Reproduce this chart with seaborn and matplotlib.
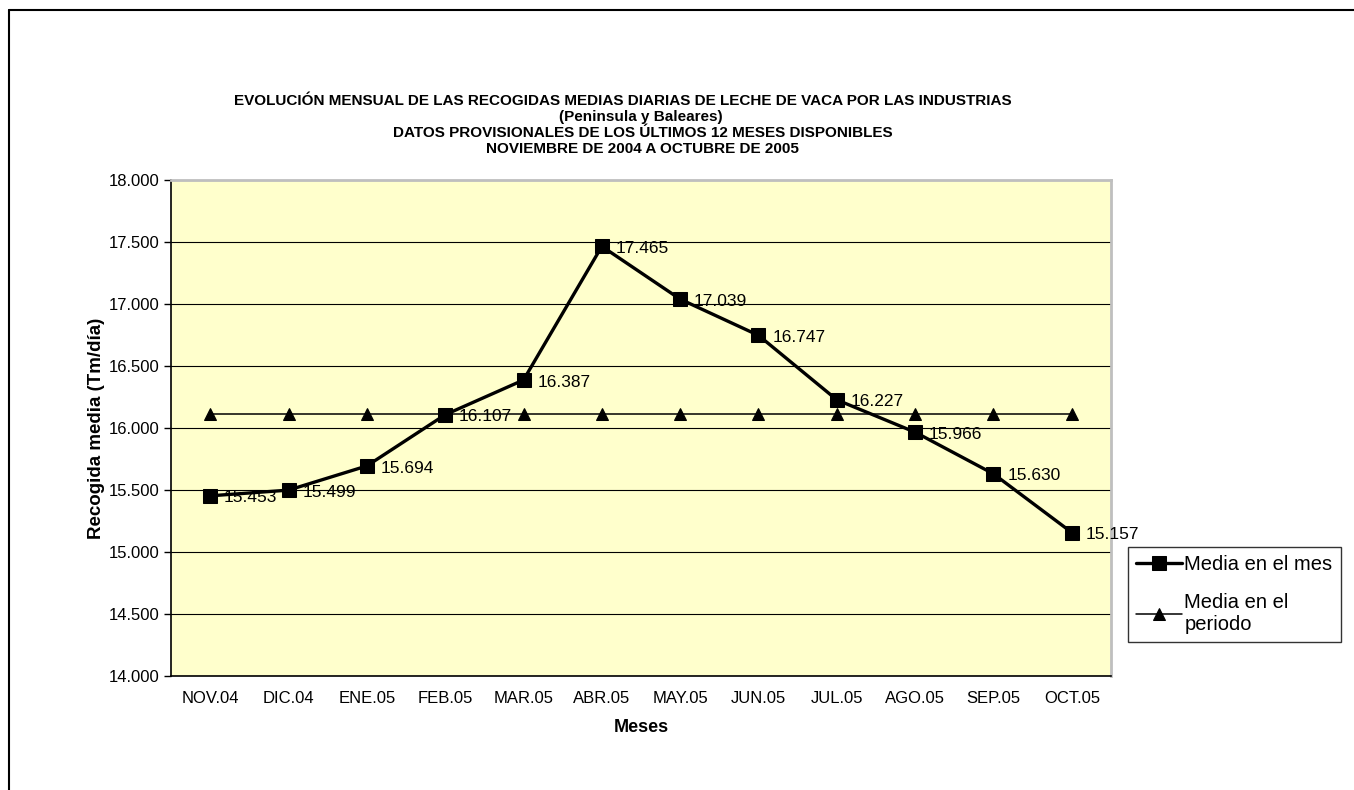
import matplotlib
matplotlib.use('Agg')

import matplotlib.pyplot as plt
from matplotlib.lines import Line2D
import numpy as np
import pandas as pd
import seaborn as sns

# datos
meses = ['NOV.04', 'DIC.04', 'ENE.05', 'FEB.05', 'MAR.05', 'ABR.05',
         'MAY.05', 'JUN.05', 'JUL.05', 'AGO.05', 'SEP.05', 'OCT.05']
media_mes = [15453, 15499, 15694, 16107, 16387, 17465,
             17039, 16747, 16227, 15966, 15630, 15157]
media_periodo = [16114, 16114, 16114, 16114, 16114, 16114,
                 16114, 16114, 16114, 16114, 16114, 16114]
yticks = [14000, 14500, 15000, 15500, 16000, 16500, 17000, 17500, 18000]

titulos = ['EVOLUCIÓN MENSUAL DE LAS RECOGIDAS MEDIAS DIARIAS DE LECHE DE VACA POR LAS INDUSTRIAS',
           '(Peninsula y Baleares)',
           'DATOS PROVISIONALES DE LOS ÚLTIMOS 12 MESES DISPONIBLES',
           'NOVIEMBRE DE 2004 A OCTUBRE DE 2005']

df = pd.DataFrame({'Mes': meses, 'Media en el mes': media_mes,
                   'Media en el periodo': media_periodo})

sns.set_style('white')
plt.rcParams['font.family'] = ['Liberation Sans', 'DejaVu Sans']
plt.rcParams['text.color'] = 'black'
plt.rcParams['axes.labelcolor'] = 'black'
plt.rcParams['xtick.color'] = 'black'
plt.rcParams['ytick.color'] = 'black'

fig = plt.figure(figsize=(13.54, 7.9), dpi=100)
ax = fig.add_axes([171 / 1354, 1 - 676 / 790, 940 / 1354, 496 / 790])
ax.set_facecolor('#FFFFCC')

sns.lineplot(data=df, x='Mes', y='Media en el periodo', ax=ax, sort=False,
             color='black', linewidth=1.1, marker='^', markersize=8,
             markeredgecolor='black', label='Media en el\nperiodo', zorder=3)
sns.lineplot(data=df, x='Mes', y='Media en el mes', ax=ax, sort=False,
             color='black', linewidth=2.4, marker='s', markersize=10,
             markeredgecolor='black', label='Media en el mes', zorder=4)

for i, v in enumerate(media_mes):
    ax.annotate(f'{v / 1000:.3f}', (i, v), xytext=(10, -1.5),
                textcoords='offset points', va='center', ha='left', fontsize=12.5)

ax.set_ylim(14000, 18000)
ax.set_yticks(yticks)
ax.set_yticklabels([f'{t / 1000:.3f}' for t in yticks], fontsize=12)
ax.yaxis.grid(True, color='black', linewidth=0.8)
ax.set_axisbelow(True)

ax.set_xlim(-0.5, len(meses) - 0.5)
ax.set_xticks(range(len(meses)))
ax.set_xticklabels(meses, fontsize=12)
ax.set_xticks(np.arange(-0.5, len(meses), 1), minor=True)
ax.tick_params(axis='x', which='major', length=0, pad=11)
ax.tick_params(axis='x', which='minor', length=5, width=1, color='black', direction='out')
ax.tick_params(axis='y', length=5, width=1, color='black', direction='out', left=True, pad=3)

for s in ['left', 'bottom']:
    ax.spines[s].set_color('black')
    ax.spines[s].set_linewidth(1.2)
for s in ['top', 'right']:
    ax.spines[s].set_color('#BFBFBF')
    ax.spines[s].set_linewidth(2)

ax.set_xlabel('Meses', fontsize=13, fontweight='bold', labelpad=9)
ax.set_ylabel('Recogida media (Tm/día)', fontsize=13.5, fontweight='bold', labelpad=3)

# leyenda
ax.get_legend().remove()
handles, labels = ax.get_legend_handles_labels()
leg = fig.legend(handles[::-1], labels[::-1], loc='upper left',
                 bbox_to_anchor=(1128 / 1354, 1 - 547 / 790), fontsize=14.5,
                 frameon=True, fancybox=False, edgecolor='black',
                 handlelength=2.3, handletextpad=0.1, borderpad=0.4,
                 labelspacing=0.95, borderaxespad=0)
leg.get_frame().set_linewidth(1)

# titulo
centros = [623, 641, 643, 642]
for k, t in enumerate(titulos):
    fig.text(centros[k] / 1354, 1 - (101 + 16 * k) / 790, t, ha='center', va='center',
             fontsize=11, fontweight='bold')

# marco del grafico
fig.add_artist(Line2D([9 / 1354, 9 / 1354], [0, 1 - 10 / 790], color='black',
                      linewidth=1.5, transform=fig.transFigure))
fig.add_artist(Line2D([9 / 1354, 1], [1 - 10 / 790, 1 - 10 / 790], color='black',
                      linewidth=1.5, transform=fig.transFigure))

fig.savefig('out.png', dpi=100)
